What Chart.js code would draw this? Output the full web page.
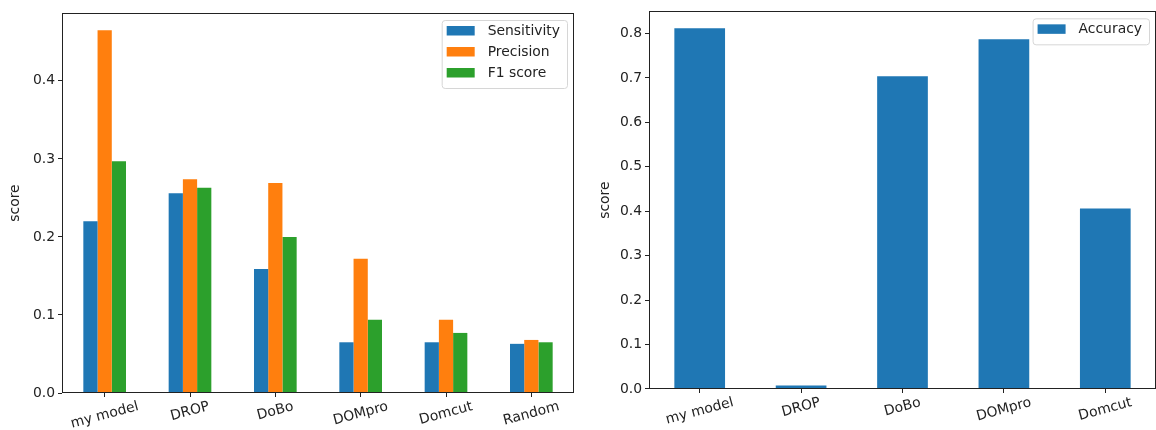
<!DOCTYPE html>
<html>
<head>
<meta charset="utf-8">
<script src="https://cdn.jsdelivr.net/npm/chart.js@4"></script>
<style>
body { margin: 0; background: #fff; }
#left { position: absolute; left: 0; top: 0; }
#right { position: absolute; left: 590px; top: 0; }
</style>
</head>
<body>
<canvas id="left" width="590" height="430"></canvas>
<canvas id="right" width="566" height="430"></canvas>
<script>
// data
const methods = ['my model', 'DROP', 'DoBo', 'DOMpro', 'Domcut', 'Random'];
const sensitivity = [0.220, 0.256, 0.159, 0.065, 0.065, 0.063];
const precision = [0.465, 0.274, 0.269, 0.172, 0.094, 0.068];
const f1score = [0.297, 0.263, 0.200, 0.094, 0.077, 0.065];

const accMethods = ['my model', 'DROP', 'DoBo', 'DOMpro', 'Domcut'];
const accuracy = [0.812, 0.008, 0.704, 0.787, 0.406];

const leftTicks = [0.0, 0.1, 0.2, 0.3, 0.4];
const rightTicks = [0.0, 0.1, 0.2, 0.3, 0.4, 0.5, 0.6, 0.7, 0.8];

const FONT = 'DejaVu Sans';
const FS = 13.9;
const INK = '#222';

Chart.defaults.font.family = FONT;
Chart.defaults.font.size = FS;
Chart.defaults.color = INK;

// matplotlib-ish frame, rotated x labels and legend box
const mplLook = {
    id: 'mplLook',
    afterDraw(chart) {
        const ctx = chart.ctx;
        const a = chart.chartArea;
        ctx.save();
        // frame
        ctx.strokeStyle = INK;
        ctx.lineWidth = 1;
        ctx.strokeRect(Math.round(a.left) + 0.5, Math.round(a.top) + 0.5,
            Math.round(a.right - a.left) - 1, Math.round(a.bottom - a.top) - 1);

        // x labels, rotated 15deg, centred under tick
        const xs = chart.scales.x;
        ctx.font = FS + 'px "' + FONT + '"';
        ctx.fillStyle = INK;
        ctx.textAlign = 'center';
        ctx.textBaseline = 'middle';
        const ang = 15 * Math.PI / 180;
        chart.data.labels.forEach((lab, i) => {
            const x = xs.getPixelForTick(i);
            const w = ctx.measureText(lab).width;
            const h = FS * 0.95;
            const half = (w * Math.sin(ang) + h * Math.cos(ang)) / 2;
            ctx.save();
            ctx.translate(x, a.bottom + 7 + half);
            ctx.rotate(-ang);
            ctx.fillText(lab, 0, 0);
            ctx.restore();
        });

        // legend in upper right
        const sets = chart.data.datasets;
        ctx.textAlign = 'left';
        let maxW = 0;
        sets.forEach(d => { maxW = Math.max(maxW, ctx.measureText(d.label).width); });
        const bw = 5 + 28 + 13 + maxW + 7;
        const bh = 21 * sets.length + 5;
        const bx = a.right - 7 - bw;
        const by = a.top + 7;
        ctx.beginPath();
        ctx.roundRect(bx + 0.5, by + 0.5, bw, bh, 3);
        ctx.fillStyle = 'rgba(255,255,255,0.8)';
        ctx.fill();
        ctx.strokeStyle = '#d6d6d6';
        ctx.stroke();
        sets.forEach((d, i) => {
            const cy = by + 11 + 21 * i;
            ctx.fillStyle = d.backgroundColor;
            ctx.fillRect(bx + 5, cy - 5, 28, 9.5);
            ctx.fillStyle = INK;
            ctx.fillText(d.label, bx + 5 + 28 + 13, cy + 0.5);
        });
        ctx.restore();
    }
};

function makeOptions(yMax, yTicks, yWidth, xHeight, padTop, padRight) {
    return {
        responsive: false,
        animation: false,
        devicePixelRatio: 1,
        layout: { padding: { top: padTop, right: padRight, left: 0, bottom: 0 } },
        plugins: { legend: { display: false }, tooltip: { enabled: false } },
        scales: {
            x: {
                grid: { display: true, drawOnChartArea: false, offset: false, tickLength: 4, color: INK },
                border: { display: false },
                ticks: { display: false },
                afterFit(scale) { scale.height = xHeight; }
            },
            y: {
                min: 0,
                max: yMax,
                grid: { display: true, drawOnChartArea: false, tickLength: 4, color: INK },
                border: { display: false },
                ticks: {
                    padding: 3,
                    color: INK,
                    font: { size: FS },
                    callback: v => v.toFixed(1)
                },
                title: { display: true, text: 'score', color: INK, font: { size: FS }, padding: { top: 7, bottom: 0 } },
                afterBuildTicks(scale) { scale.ticks = yTicks.map(v => ({ value: v })); },
                afterFit(scale) { scale.width = yWidth; }
            }
        }
    };
}

new Chart(document.getElementById('left').getContext('2d'), {
    type: 'bar',
    data: {
        labels: methods,
        datasets: [{
            label: 'Sensitivity',
            data: sensitivity,
            backgroundColor: '#1f77b4',
            categoryPercentage: 0.5,
            barPercentage: 1.0
        }, {
            label: 'Precision',
            data: precision,
            backgroundColor: '#ff7f0e',
            categoryPercentage: 0.5,
            barPercentage: 1.0
        }, {
            label: 'F1 score',
            data: f1score,
            backgroundColor: '#2ca02c',
            categoryPercentage: 0.5,
            barPercentage: 1.0
        }]
    },
    options: makeOptions(0.487, leftTicks, 62, 37, 13, 16),
    plugins: [mplLook]
});

new Chart(document.getElementById('right').getContext('2d'), {
    type: 'bar',
    data: {
        labels: accMethods,
        datasets: [{
            label: 'Accuracy',
            data: accuracy,
            backgroundColor: '#1f77b4',
            categoryPercentage: 0.5,
            barPercentage: 1.0
        }]
    },
    options: makeOptions(0.85, rightTicks, 59, 41, 11, 0),
    plugins: [mplLook]
});
</script>
</body>
</html>
